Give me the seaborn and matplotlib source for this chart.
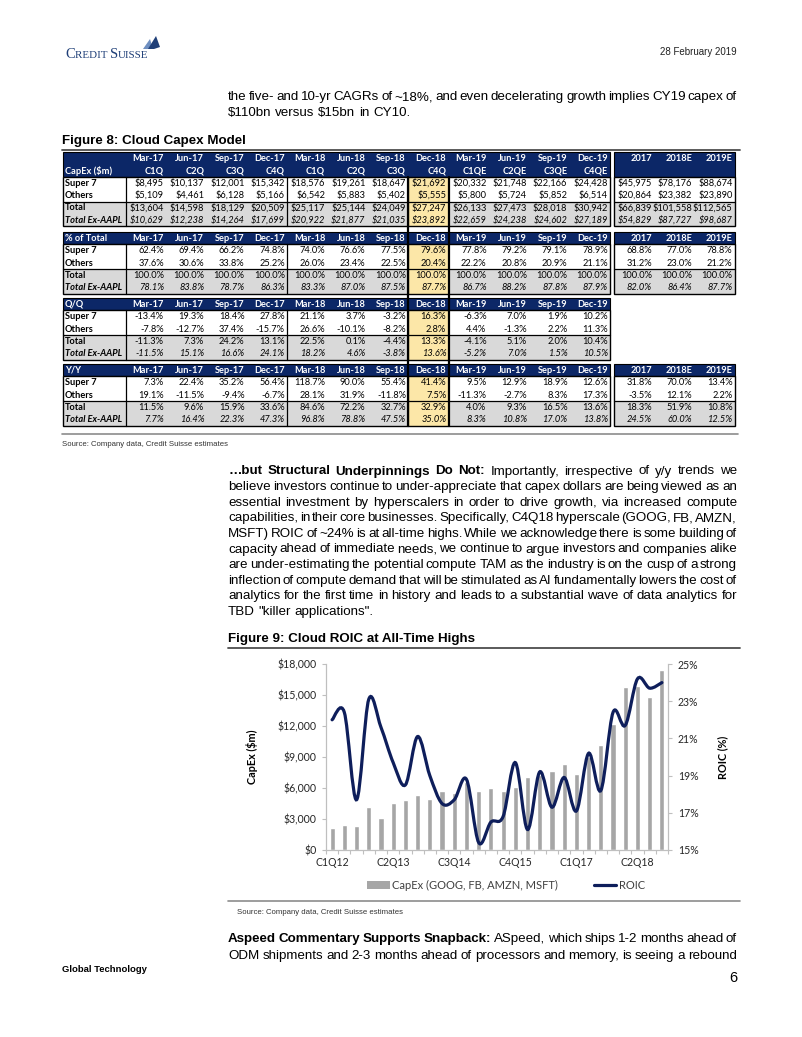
import numpy as np
import pandas as pd
import matplotlib
matplotlib.use("Agg")
import matplotlib.pyplot as plt
import seaborn as sns
from matplotlib.patches import Rectangle, PathPatch, Polygon, Patch
from matplotlib.path import Path
from matplotlib.lines import Line2D

sns.set_theme(style="white")
plt.rcParams['font.family'] = ['Liberation Sans', 'DejaVu Sans']

# ---------------- Figure 8 table data ----------------
quarter_hdr = ['Mar-17', 'Jun-17', 'Sep-17', 'Dec-17', 'Mar-18', 'Jun-18',
               'Sep-18', 'Dec-18', 'Mar-19', 'Jun-19', 'Sep-19', 'Dec-19']
fiscal_hdr = ['C1Q', 'C2Q', 'C3Q', 'C4Q', 'C1Q', 'C2Q', 'C3Q', 'C4Q',
              'C1QE', 'C2QE', 'C3QE', 'C4QE']
year_hdr = ['2017', '2018E', '2019E']
row_names = ['Super 7', 'Others', 'Total', 'Total Ex-AAPL']

capex_super7 = [8495, 10137, 12001, 15342, 18576, 19261, 18647, 21692, 20332, 21748, 22166, 24428]
capex_others = [5109, 4461, 6128, 5166, 6542, 5883, 5402, 5555, 5800, 5724, 5852, 6514]
capex_total = [13604, 14598, 18129, 20509, 25117, 25144, 24049, 27247, 26133, 27473, 28018, 30942]
capex_exaapl = [10629, 12238, 14264, 17699, 20922, 21877, 21035, 23892, 22659, 24238, 24602, 27189]
capex_yr_super7 = [45975, 78176, 88674]
capex_yr_others = [20864, 23382, 23890]
capex_yr_total = [66839, 101558, 112565]
capex_yr_exaapl = [54829, 87727, 98687]

share_super7 = [62.4, 69.4, 66.2, 74.8, 74.0, 76.6, 77.5, 79.6, 77.8, 79.2, 79.1, 78.9]
share_others = [37.6, 30.6, 33.8, 25.2, 26.0, 23.4, 22.5, 20.4, 22.2, 20.8, 20.9, 21.1]
share_total = [100.0] * 12
share_exaapl = [78.1, 83.8, 78.7, 86.3, 83.3, 87.0, 87.5, 87.7, 86.7, 88.2, 87.8, 87.9]
share_yr_super7 = [68.8, 77.0, 78.8]
share_yr_others = [31.2, 23.0, 21.2]
share_yr_total = [100.0, 100.0, 100.0]
share_yr_exaapl = [82.0, 86.4, 87.7]

qq_super7 = [-13.4, 19.3, 18.4, 27.8, 21.1, 3.7, -3.2, 16.3, -6.3, 7.0, 1.9, 10.2]
qq_others = [-7.8, -12.7, 37.4, -15.7, 26.6, -10.1, -8.2, 2.8, 4.4, -1.3, 2.2, 11.3]
qq_total = [-11.3, 7.3, 24.2, 13.1, 22.5, 0.1, -4.4, 13.3, -4.1, 5.1, 2.0, 10.4]
qq_exaapl = [-11.5, 15.1, 16.6, 24.1, 18.2, 4.6, -3.8, 13.6, -5.2, 7.0, 1.5, 10.5]

yy_super7 = [7.3, 22.4, 35.2, 56.4, 118.7, 90.0, 55.4, 41.4, 9.5, 12.9, 18.9, 12.6]
yy_others = [19.1, -11.5, -9.4, -6.7, 28.1, 31.9, -11.8, 7.5, -11.3, -2.7, 8.3, 17.3]
yy_total = [11.5, 9.6, 15.9, 33.6, 84.6, 72.2, 32.7, 32.9, 4.0, 9.3, 16.5, 13.6]
yy_exaapl = [7.7, 16.4, 22.3, 47.3, 96.8, 78.8, 47.5, 35.0, 8.3, 10.8, 17.0, 13.8]
yy_yr_super7 = [31.8, 70.0, 13.4]
yy_yr_others = [-3.5, 12.1, 2.2]
yy_yr_total = [18.3, 51.9, 10.8]
yy_yr_exaapl = [24.5, 60.0, 12.5]

# ---------------- Figure 9 chart data ----------------
chart_quarters = [f"C{q}Q{y}" for y in range(12, 19) for q in range(1, 5)]
capex_hyper = [2160, 2450, 2330, 4160, 3100, 4520, 4840, 5330, 4970, 5740, 5560, 6550, 5710, 6030,
               5710, 6110, 7030, 7300, 7660, 8360, 7360, 9000, 10130, 12210, 15810, 15900, 14820, 17440]
roic = [22.0, 22.4, 17.7, 23.1, 21.6, 19.7, 18.5, 21.1, 19.0, 17.5, 17.7, 18.8, 15.4, 16.5,
        16.8, 19.7, 16.1, 19.2, 17.3, 18.9, 17.1, 20.2, 18.2, 22.4, 21.7, 24.2, 23.7, 24.0]
chart_xlabels = ['C1Q12', 'C2Q13', 'C3Q14', 'C4Q15', 'C1Q17', 'C2Q18']

# ---------------- styles ----------------
NAVY = '#0c2767'
LINE_NAVY = '#0e1e5b'
GRAY_ROW = '#d9d9d9'
YELLOW = '#fce7a8'
BAR = '#a6a6a6'
SPINE = '#bfbfbf'
BODY = ['Liberation Sans', 'DejaVu Sans']
TBL = ['Lato', 'DejaVu Sans']
BODY_PT = 9.6
LEAD = 15.6

W, H = 802, 1037
fig = plt.figure(figsize=(W / 100, H / 100), dpi=100)
fig.patch.set_facecolor('white')
pg = fig.add_axes([0, 0, 1, 1])
pg.set_xlim(0, W)
pg.set_ylim(H, 0)
pg.axis('off')
renderer = fig.canvas.get_renderer()


def para_line(words, x0, x1, y, size, justify=True):
    """words: list of (text, weight); placed word by word so the line can be justified"""
    objs, widths = [], []
    for w, wt in words:
        t = pg.text(x0, y, w, fontsize=size, fontweight=wt, family=BODY,
                    va='baseline', ha='left', color='black')
        objs.append(t)
        widths.append(t.get_window_extent(renderer).width)
    natural = 0.278 * size * 100 / 72
    if justify and len(words) > 1:
        gap = (x1 - x0 - sum(widths)) / (len(words) - 1)
    else:
        gap = natural
    x = x0
    for t, w in zip(objs, widths):
        t.set_x(x)
        x += w + gap


def split(s, weight='normal'):
    return [(w, weight) for w in s.split()]


# ---------------- page header ----------------
logo_x = 65
for txt, sz in [('C', 10.5), ('REDIT ', 7.9), ('S', 10.5), ('UISSE', 7.9)]:
    t = pg.text(logo_x, 57.5, txt, fontsize=sz, family=['Liberation Serif', 'DejaVu Serif'],
                color='#1f3f78', va='baseline', ha='left')
    logo_x += t.get_window_extent(renderer).width
pg.add_patch(Polygon([(143, 49), (150, 39), (153, 49)], closed=True, fc='#6f8fc0', ec='none'))
pg.add_patch(Polygon([(148, 49), (156, 36), (160, 47), (154, 49)], closed=True, fc='#1f3f78', ec='none'))
pg.text(737, 52, '28 February 2019', fontsize=7.0, family=BODY, ha='right', va='center', color='#222222')

para_line(split('the five- and 10-yr CAGRs of ~18%, and even decelerating growth implies CY19 capex of'),
          228, 737, 100, BODY_PT)
para_line(split('$110bn versus $15bn in CY10.'), 228, 737, 100 + LEAD, BODY_PT, justify=False)

# ---------------- Figure 8 ----------------
pg.text(62, 141, 'Figure 8: Cloud Capex Model', fontsize=9.6, fontweight='bold', family=BODY,
        ha='left', va='center', color='black')
pg.plot([62, 740], [150, 150], color='#4d4d4d', lw=1.3)

LX0, LX1 = 63, 126
QW = 40.35
AX0, AW = 614, 40.33
RH = 12.4


def ql(j):
    return LX1 + j * QW


def cell_text(x, y, s, bold=False, italic=False, color='black', ha='right'):
    pg.text(x, y, s, fontsize=6.7, family=TBL, fontweight='bold' if bold else 'normal',
            fontstyle='italic' if italic else 'normal', color=color, ha=ha, va='center')


def draw_block(top, label, rows, yrows, fmt, two_rows=False):
    hh = RH * (2 if two_rows else 1)
    # header band
    pg.add_patch(Rectangle((LX0, top), ql(12) - LX0, hh, fc=NAVY, ec='black', lw=0.8))
    for j in range(12):
        cell_text(ql(j + 1) - 2.5, top + RH / 2, quarter_hdr[j], bold=True, color='white')
        if two_rows:
            cell_text(ql(j + 1) - 2.5, top + RH * 1.5, fiscal_hdr[j], bold=True, color='white')
    cell_text(LX0 + 2, top + hh - RH / 2, label, bold=True, color='white', ha='left')
    if yrows is not None:
        pg.add_patch(Rectangle((AX0, top), 3 * AW, hh, fc=NAVY, ec='black', lw=0.8))
        for k in range(3):
            cell_text(AX0 + (k + 1) * AW - 2.5, top + RH / 2, year_hdr[k], bold=True, color='white')
    # data rows
    y0 = top + hh
    for r in range(4):
        yr = y0 + r * RH
        bg = 'white' if r < 2 else GRAY_ROW
        pg.add_patch(Rectangle((LX0, yr), ql(12) - LX0, RH, fc=bg, ec='none'))
        pg.add_patch(Rectangle((ql(7), yr), QW, RH, fc=YELLOW, ec='none'))
        cell_text(LX0 + 2, yr + RH / 2, row_names[r], bold=True, italic=(r == 3), ha='left')
        for j, v in enumerate(rows[r]):
            cell_text(ql(j + 1) - 2.5, yr + RH / 2, fmt(v), italic=(r == 3))
        if yrows is not None:
            pg.add_patch(Rectangle((AX0, yr), 3 * AW, RH, fc=bg, ec='none'))
            for k, v in enumerate(yrows[r]):
                cell_text(AX0 + (k + 1) * AW - 2.5, yr + RH / 2, fmt(v), italic=(r == 3))
    y1 = y0 + 4 * RH
    # borders
    pg.add_patch(Rectangle((LX0, y0), ql(12) - LX0, y1 - y0, fc='none', ec='black', lw=1.0))
    pg.plot([LX0, ql(12)], [y0 + 2 * RH] * 2, color='black', lw=0.9)
    for xv in [LX1, ql(4), ql(7)]:
        pg.plot([xv, xv], [y0, y1], color='black', lw=0.9)
    if yrows is not None:
        pg.add_patch(Rectangle((AX0, y0), 3 * AW, y1 - y0, fc='none', ec='black', lw=1.0))
        pg.plot([AX0, AX0 + 3 * AW], [y0 + 2 * RH] * 2, color='black', lw=0.9)
    return y1


money = lambda v: f"${v:,.0f}"
pct = lambda v: f"{v:.1f}%"

draw_block(152, 'CapEx ($m)',
           [capex_super7, capex_others, capex_total, capex_exaapl],
           [capex_yr_super7, capex_yr_others, capex_yr_total, capex_yr_exaapl], money, two_rows=True)
draw_block(232, '% of Total',
           [share_super7, share_others, share_total, share_exaapl],
           [share_yr_super7, share_yr_others, share_yr_total, share_yr_exaapl], pct)
draw_block(298, 'Q/Q', [qq_super7, qq_others, qq_total, qq_exaapl], None, pct)
end = draw_block(364, 'Y/Y', [yy_super7, yy_others, yy_total, yy_exaapl],
                 [yy_yr_super7, yy_yr_others, yy_yr_total, yy_yr_exaapl], pct)
# outline of the highlighted Dec-18 column
for xv in [ql(7), ql(8)]:
    pg.plot([xv, xv], [177, end], color='black', lw=1.6)

pg.plot([62, 738], [434, 434], color='#8c8c8c', lw=1.2)
pg.text(62, 444, 'Source: Company data, Credit Suisse estimates', fontsize=5.6, family=BODY,
        ha='left', va='center', color='#333333')

# ---------------- body paragraph ----------------
body = [
    split('…but Structural Underpinnings Do Not:', 'bold') + split('Importantly, irrespective of y/y trends we'),
    split('believe investors continue to under-appreciate that capex dollars are being viewed as an'),
    split('essential investment by hyperscalers in order to drive growth, via increased compute'),
    split('capabilities, in their core businesses. Specifically, C4Q18 hyperscale (GOOG, FB, AMZN,'),
    split('MSFT) ROIC of ~24% is at all-time highs. While we acknowledge there is some building of'),
    split('capacity ahead of immediate needs, we continue to argue investors and companies alike'),
    split('are under-estimating the potential compute TAM as the industry is on the cusp of a strong'),
    split('inflection of compute demand that will be stimulated as AI fundamentally lowers the cost of'),
    split('analytics for the first time in history and leads to a substantial wave of data analytics for'),
    split('TBD "killer applications".'),
]
for i, words in enumerate(body):
    para_line(words, 228, 737, 474.5 + i * LEAD, BODY_PT, justify=(i < len(body) - 1))

# ---------------- Figure 9 ----------------
pg.text(228, 639, 'Figure 9: Cloud ROIC at All-Time Highs', fontsize=9.6, fontweight='bold', family=BODY,
        ha='left', va='center', color='black')
pg.plot([228, 740], [648, 648], color='#4d4d4d', lw=1.3)

ax = fig.add_axes([326 / W, 1 - 850 / H, 342 / W, 186 / H])
ax.patch.set_alpha(0)
df = pd.DataFrame({'quarter': chart_quarters, 'capex': capex_hyper, 'roic': roic})
sns.barplot(data=df, x='quarter', y='capex', color=BAR, saturation=1, width=0.42, ax=ax, zorder=2)
ax.set_xlim(-0.5, len(chart_quarters) - 0.5)
ax.set_ylim(0, 18000)
ax.set_yticks(range(0, 18001, 3000))
ax.set_yticklabels([f"${v:,}" for v in range(0, 18001, 3000)], family=TBL, fontsize=7.6, color='#262626')
ax.set_xticks([chart_quarters.index(q) for q in chart_xlabels])
ax.set_xticklabels(chart_xlabels, family=TBL, fontsize=7.6, color='#262626')
ax.set_xticks(np.arange(-0.5, len(chart_quarters), 1), minor=True)
ax.tick_params(axis='x', which='major', bottom=True, length=0, pad=5)
ax.tick_params(axis='x', which='minor', bottom=True, length=3, width=0.8, color=SPINE)
ax.tick_params(axis='y', left=True, length=3, width=0.8, color=SPINE, pad=4)
ax.set_xlabel('')
ax.set_ylabel('CapEx ($m)', family=TBL, fontsize=7.8, fontweight='bold', color='black')
ax.yaxis.set_label_coords(-0.20, 0.5)
for s in ['left', 'bottom', 'right']:
    ax.spines[s].set_color(SPINE)
    ax.spines[s].set_linewidth(0.8)
ax.spines['top'].set_visible(False)

ax2 = ax.twinx()
ax2.set_ylim(15, 25)
ax2.set_yticks([15, 17, 19, 21, 23, 25])
ax2.set_yticklabels([f"{v}%" for v in [15, 17, 19, 21, 23, 25]], family=TBL, fontsize=7.6, color='#262626')
ax2.tick_params(axis='y', right=True, length=3, width=0.8, color=SPINE, pad=4)
ax2.set_ylabel('ROIC (%)', family=TBL, fontsize=7.8, fontweight='bold', color='black')
ax2.yaxis.set_label_coords(1.145, 0.5)
for s in ['left', 'bottom', 'right']:
    ax2.spines[s].set_color(SPINE)
    ax2.spines[s].set_linewidth(0.8)
ax2.spines['top'].set_visible(False)
ax2.grid(False)
ax.grid(False)

# smoothed (Catmull-Rom / Bezier) ROIC line through the data points
pts = np.column_stack([np.arange(len(roic)), roic]).astype(float)
ext = np.vstack([pts[0], pts, pts[-1]])
verts, codes = [tuple(pts[0])], [Path.MOVETO]
for i in range(len(pts) - 1):
    p0, p1, p2, p3 = ext[i], ext[i + 1], ext[i + 2], ext[i + 3]
    c1 = p1 + (p2 - p0) / 6
    c2 = p2 - (p3 - p1) / 6
    verts += [tuple(c1), tuple(c2), tuple(p2)]
    codes += [Path.CURVE4] * 3
ax2.add_patch(PathPatch(Path(verts, codes), fc='none', ec=LINE_NAVY, lw=2.3, capstyle='round', zorder=3))

handles = [Patch(fc=BAR, ec='none'), Line2D([], [], color=LINE_NAVY, lw=2.3)]
ax.legend(handles, ['CapEx (GOOG, FB, AMZN, MSFT)', 'ROIC'], loc='center', bbox_to_anchor=(0.527, -0.19),
          ncol=2, frameon=False, handlelength=2.0, handleheight=0.65, handletextpad=0.25,
          columnspacing=3.2, prop={'family': TBL, 'size': 8})
for t in ax.get_legend().get_texts():
    t.set_color('#404040')

pg.plot([228, 740], [901, 901], color='#8c8c8c', lw=1.2)
pg.text(237, 912, 'Source: Company data, Credit Suisse estimates', fontsize=5.6, family=BODY,
        ha='left', va='center', color='#333333')

# ---------------- closing paragraph + footer ----------------
para_line(split('Aspeed Commentary Supports Snapback:', 'bold') +
          split('ASpeed, which ships 1-2 months ahead of'), 228, 737, 942, BODY_PT)
para_line(split('ODM shipments and 2-3 months ahead of processors and memory, is seeing a rebound'),
          228, 737, 942 + LEAD + 1, BODY_PT)
pg.text(62, 969, 'Global Technology', fontsize=6.8, fontweight='bold', family=BODY,
        ha='left', va='center', color='black')
pg.text(737, 978, '6', fontsize=10.5, family=BODY, ha='right', va='center', color='black')

fig.savefig('out.png', dpi=100, facecolor='white')
